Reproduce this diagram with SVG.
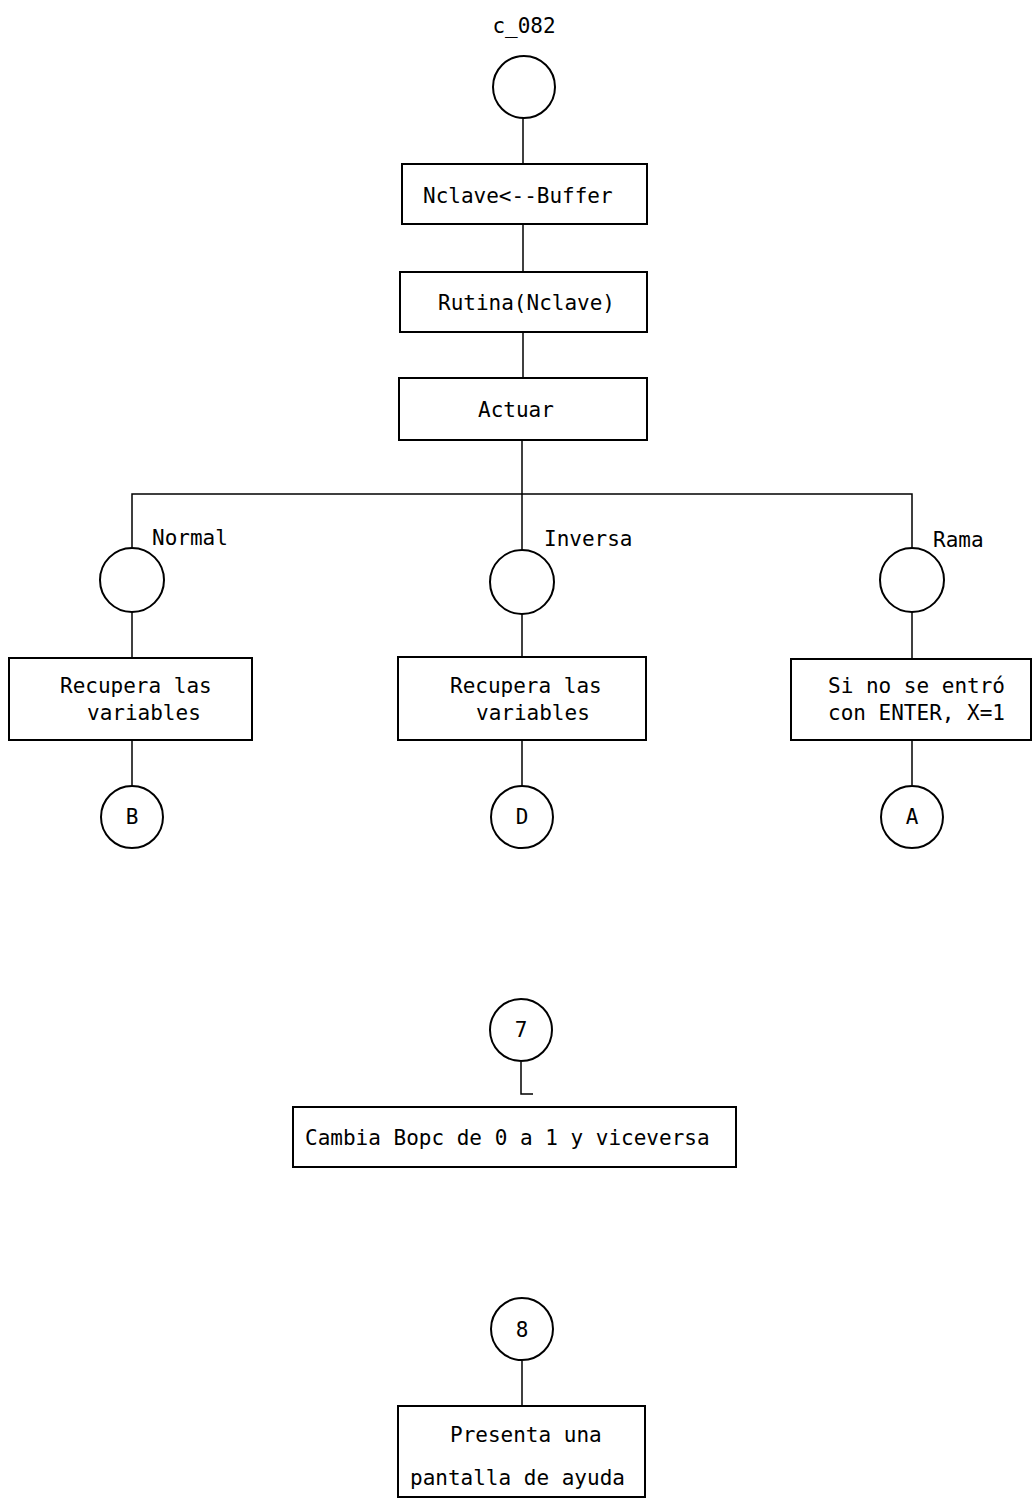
<svg xmlns="http://www.w3.org/2000/svg" width="1033" height="1504" viewBox="0 0 1033 1504">
<style>
.n{fill:#fff;stroke:#000;stroke-width:2}
.c{fill:none;stroke:#000;stroke-width:1.5}
text{font-family:"DejaVu Sans Mono","Liberation Mono",monospace;font-size:21px;fill:#000}
.m{text-anchor:middle}
</style>
<rect width="1033" height="1504" fill="#fff"/>
<g id="connectors">
<line class="c" x1="523" y1="118" x2="523" y2="164"/>
<line class="c" x1="523" y1="224" x2="523" y2="272"/>
<line class="c" x1="523" y1="332" x2="523" y2="378"/>
<line class="c" x1="522" y1="440" x2="522" y2="551"/>
<polyline class="c" points="132,548 132,494 912,494 912,548"/>
<line class="c" x1="132" y1="612" x2="132" y2="658"/>
<line class="c" x1="132" y1="740" x2="132" y2="786"/>
<line class="c" x1="522" y1="613" x2="522" y2="657"/>
<line class="c" x1="522" y1="740" x2="522" y2="786"/>
<line class="c" x1="912" y1="612" x2="912" y2="659"/>
<line class="c" x1="912" y1="740" x2="912" y2="785"/>
<polyline class="c" points="521,1062 521,1094 533,1094"/>
<line class="c" x1="522" y1="1361" x2="522" y2="1406"/>
</g>
<g id="title"><text class="m" x="524" y="33">c_082</text></g>
<g id="start"><circle class="n" cx="524" cy="87" r="31"/></g>
<g id="n1"><rect class="n" x="402" y="164" width="245" height="60"/><text x="423" y="203">Nclave&lt;--Buffer</text></g>
<g id="n2"><rect class="n" x="400" y="272" width="247" height="60"/><text x="438" y="310">Rutina(Nclave)</text></g>
<g id="n3"><rect class="n" x="399" y="378" width="248" height="62"/><text x="478" y="417">Actuar</text></g>
<g id="lbl-normal"><text x="152" y="545">Normal</text></g>
<g id="lbl-inversa"><text x="544" y="546">Inversa</text></g>
<g id="lbl-rama"><text x="933" y="547">Rama</text></g>
<g id="c-normal"><circle class="n" cx="132" cy="580" r="32"/></g>
<g id="c-inversa"><circle class="n" cx="522" cy="582" r="32"/></g>
<g id="c-rama"><circle class="n" cx="912" cy="580" r="32"/></g>
<g id="b-normal"><rect class="n" x="9" y="658" width="243" height="82"/><text x="60" y="693">Recupera las</text><text x="87" y="720">variables</text></g>
<g id="b-inversa"><rect class="n" x="398" y="657" width="248" height="83"/><text x="450" y="693">Recupera las</text><text x="476" y="720">variables</text></g>
<g id="b-rama"><rect class="n" x="791" y="659" width="240" height="81"/><text x="828" y="693">Si no se entró</text><text x="828" y="720">con ENTER, X=1</text></g>
<g id="B"><circle class="n" cx="132" cy="817" r="31"/><text class="m" x="132" y="824">B</text></g>
<g id="D"><circle class="n" cx="522" cy="817" r="31"/><text class="m" x="522" y="824">D</text></g>
<g id="A"><circle class="n" cx="912" cy="817" r="31"/><text class="m" x="912" y="824">A</text></g>
<g id="c7"><circle class="n" cx="521" cy="1030" r="31"/><text class="m" x="521" y="1037">7</text></g>
<g id="n7"><rect class="n" x="293" y="1107" width="443" height="60"/><text x="305" y="1145">Cambia Bopc de 0 a 1 y viceversa</text></g>
<g id="c8"><circle class="n" cx="522" cy="1329" r="31"/><text class="m" x="522" y="1337">8</text></g>
<g id="n8"><rect class="n" x="398" y="1406" width="247" height="91"/><text x="450" y="1442">Presenta una</text><text x="410" y="1485">pantalla de ayuda</text></g>
</svg>
